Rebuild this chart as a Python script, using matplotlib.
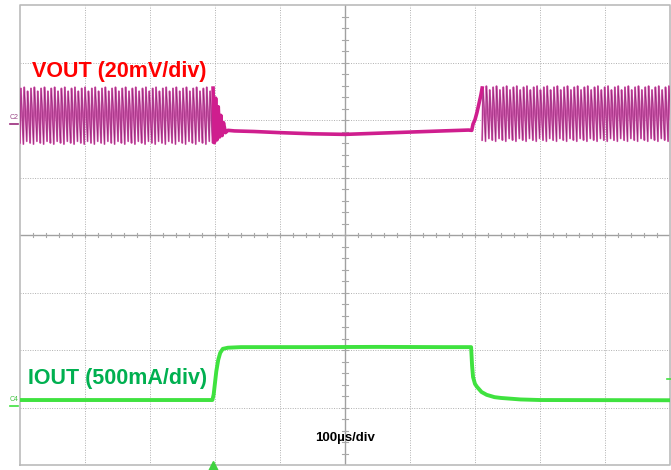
import numpy as np
import matplotlib.pyplot as plt

plt.rcParams['font.family'] = ['Liberation Sans', 'DejaVu Sans']

# --- scope settings ---
t_div = 100.0      # us/div
v_div = 20.0       # mV/div
i_div = 500.0      # mA/div
c2_offset = 5.93   # div, ground marker of VOUT
c4_offset = 1.03   # div, ground marker of IOUT

# --- VOUT (mV, relative to C2 marker) ---
# ripple sections: start us, end us, low mV, high mV
ripple_start = [0.0, 711.0]
ripple_end = [297.0, 1000.0]
ripple_lo = [-7.0, -6.0]
ripple_hi = [12.8, 13.2]
ripple_period = 5.2  # us
# one read ripple pattern (3 cycles, fraction of peak-peak)
ripple_shape = [0.02, 0.98, 0.70, 0.35, 0.0, 1.0, 0.72, 0.40, 0.05, 0.93, 0.68, 0.30]

# quiet part while load is high (incl. both transitions)
vq_t = [297, 299, 301, 303, 305, 307, 309, 311, 313, 316, 320, 330, 360, 400,
        450, 500, 550, 600, 650, 690, 695, 697, 700, 703, 706, 709, 711]
vq_mv = [12.5, -6.5, 9.0, -5.5, 6.0, -4.5, 3.0, -4.0, 0.5, -3.0, -2.2, -2.4, -2.6,
         -3.0, -3.4, -3.6, -3.2, -2.8, -2.4, -2.1, -2.2, 0.0, 1.5, 4.0, 7.0, 10.0, 12.5]

# --- IOUT (mA, relative to C4 marker) ---
i_t = [0, 296, 298, 300, 302, 305, 308, 312, 320, 340, 450, 550, 650, 694,
       695.5, 697, 700, 703, 710, 718, 730, 740, 770, 800, 1000]
i_ma = [50, 50, 100, 200, 300, 400, 460, 495, 505, 510, 510, 512, 510, 510,
        350, 250, 190, 165, 120, 95, 75, 68, 55, 50, 48]

trigger_t = 297.0

fig = plt.figure(figsize=(6.71, 4.70), dpi=100)
ax = fig.add_axes([20 / 671, 5 / 470, 650 / 671, 460 / 470])
ax.set_xlim(0, 1000)
ax.set_ylim(0, 8)
ax.axis('off')

# graticule
grid_c = '#B0B0B0'
for k in range(1, 10):
    if k != 5:
        ax.axvline(k * t_div, color=grid_c, lw=0.7, ls=(0, (1, 1.5)), zorder=0)
for k in range(1, 8):
    if k != 4:
        ax.axhline(k, color=grid_c, lw=0.7, ls=(0, (1, 1.5)), zorder=0)
ax.axvline(500, color='#A0A0A0', lw=1.0, zorder=0)
ax.axhline(4, color='#A0A0A0', lw=1.0, zorder=0)
for s in np.arange(0.2, 8, 0.2):
    ax.plot([496, 504], [s, s], color='#A8A8A8', lw=0.8, zorder=0)
for s in np.arange(20, 1000, 20):
    ax.plot([s, s], [3.965, 4.035], color='#A8A8A8', lw=0.8, zorder=0)
ax.plot([0, 1000, 1000, 0, 0], [0, 0, 8, 8, 0], color='#BBBBBB', lw=1.2,
        clip_on=False, zorder=0)

# VOUT trace
for a, b, lo, hi in zip(ripple_start, ripple_end, ripple_lo, ripple_hi):
    step = ripple_period * 3 / len(ripple_shape)
    t = np.arange(a, b + step, step)
    shape = np.resize(ripple_shape, len(t))
    mv = lo + (hi - lo) * shape
    y = c2_offset + mv / v_div
    ax.plot(t, y, color='#D660B2', lw=1.3, zorder=2)
    ax.plot(t, y, color='#9A2A7C', lw=0.5, zorder=3)
ax.plot(vq_t, c2_offset + np.array(vq_mv) / v_div, color='#CF1E8E',
        lw=2.6, zorder=3)

# IOUT trace
ax.plot(i_t, c4_offset + np.array(i_ma) / i_div, color='#3FE23F', lw=2.8, zorder=3)

# labels
ax.text(18, 6.85, 'VOUT (20mV/div)', color='#FF0000', fontsize=15.5,
        fontweight='bold', va='center', ha='left')
ax.text(12, 1.51, 'IOUT (500mA/div)', color='#00B050', fontsize=15.5,
        fontweight='bold', va='center', ha='left')
ax.text(500, 0.47, '100µs/div', color='black', fontsize=9.5,
        fontweight='bold', va='center', ha='center')

# channel markers
ax.text(-16, c2_offset + 0.12, 'C2', color='#9A4A88', fontsize=5,
        va='center', ha='left', clip_on=False)
ax.plot([-16, -3], [c2_offset, c2_offset], color='#9A2A7C', lw=1.2, clip_on=False)
ax.text(-16, c4_offset + 0.11, 'C4', color='#3FC43F', fontsize=5,
        va='center', ha='left', clip_on=False)
ax.plot([-16, -3], [c4_offset, c4_offset], color='#3FE23F', lw=1.2, clip_on=False)
ax.plot([996, 1002], [1.5, 1.5], color='#3FE23F', lw=1.2, clip_on=False)

# trigger position
ax.plot([trigger_t], [-0.02], marker='^', color='#3FD23F', markersize=7,
        clip_on=False, zorder=4)

fig.savefig('out.png', dpi=100)
